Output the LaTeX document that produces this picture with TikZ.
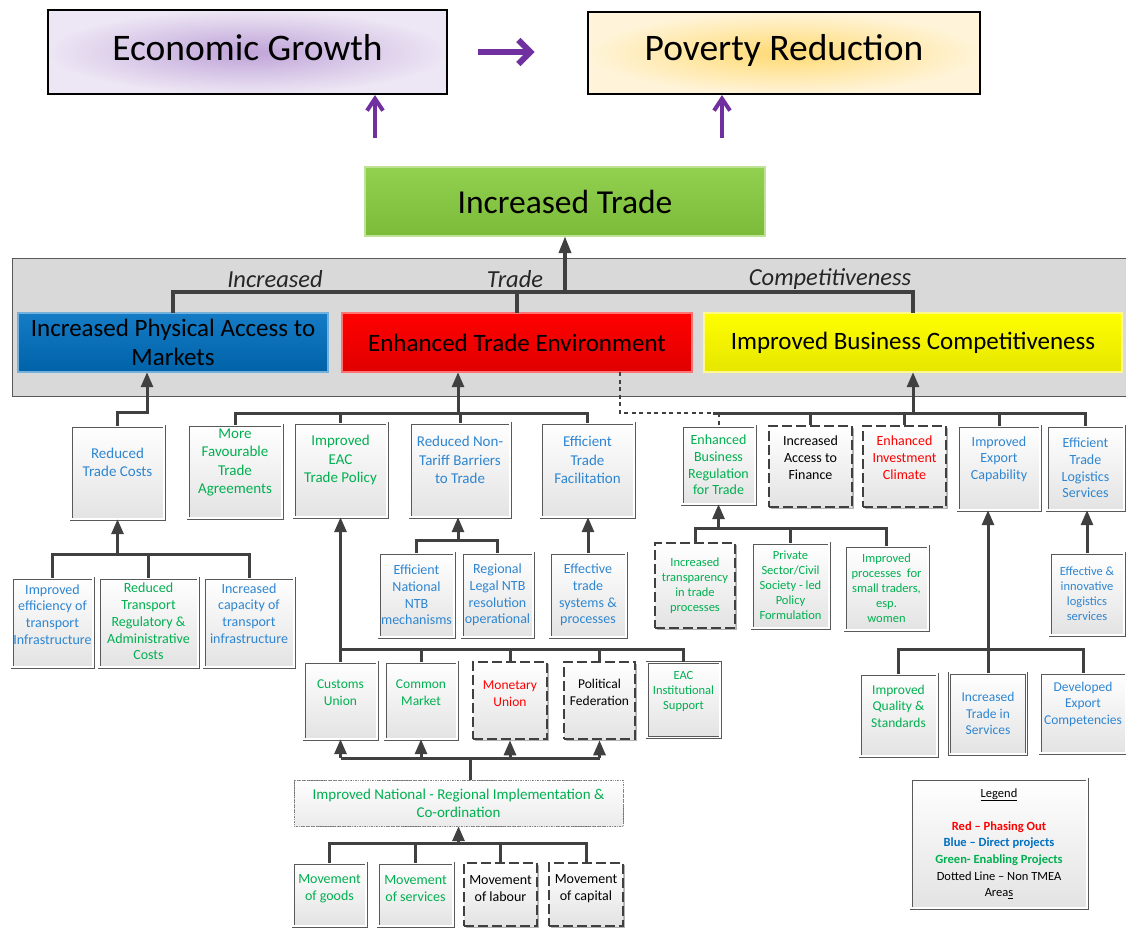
\documentclass[tikz,border=0pt]{standalone}
\usepackage{fontspec}
\setmainfont{Carlito}
\usetikzlibrary{arrows.meta,shadows}
\definecolor{tblue}{HTML}{2E86D1}
\definecolor{tgreen}{HTML}{00B050}
\definecolor{tred}{HTML}{FF0000}
\definecolor{lblue}{HTML}{0070C0}
\definecolor{cline}{HTML}{404040}
\definecolor{purp}{HTML}{7030A0}
\definecolor{egin}{HTML}{BFA3D8}
\definecolor{egout}{HTML}{EDE6F4}
\definecolor{prin}{HTML}{FFDA73}
\definecolor{prout}{HTML}{FFF4D9}
\definecolor{bandfill}{HTML}{D9D9D9}
\definecolor{itgreen}{HTML}{92D050}
\definecolor{itgreen2}{HTML}{7CBB3A}
\newcommand\mybox[9]{%
  \node[#2, minimum width=#5pt, minimum height=#6pt] (#1) at (#3,#4) {};
  \node[align=center, inner sep=0pt, #7] (#1-t) at ([yshift=#8pt]#1.center) {#9};}
\begin{document}
\begin{tikzpicture}[x=1pt,y=-1pt,
  conn/.style={draw=cline, line width=3pt},
  trunk/.style={draw=cline, line width=3.8pt},
  arr/.style={conn, -{Triangle[length=15pt,width=12pt]}},
  dotconn/.style={draw=cline, line width=2.5pt, dash pattern=on 4pt off 3.5pt},
  pline/.style={draw=purp, line width=4pt},
  shd/.style={drop shadow={shadow xshift=1.8pt, shadow yshift=-1.8pt, opacity=0.3, fill=black}},
  pbox/.style={rectangle, top color=white, bottom color=black!11, shd,
     postaction={draw=black!65, line width=3pt},
     postaction={draw=white, line width=1.5pt}},
  dbox/.style={rectangle, draw=cline, line width=2.6pt, dash pattern=on 10pt off 4pt, top color=white, bottom color=black!11, shd},
  ibox/.style={rectangle, top color=white, bottom color=black!8,
     postaction={draw=black!55, line width=0.7pt, densely dotted},
     postaction={draw=black!40, line width=0.5pt, dotted}},
  bandbox/.style={rectangle, postaction={draw=black!70, line width=2.8pt},
     postaction={draw=#1, line width=1.3pt}},
  f24/.style={font=\fontsize{25}{29}\selectfont},
  f15/.style={font=\fontsize{15}{18.5}\selectfont},
  f14/.style={font=\fontsize{14}{16.7}\selectfont},
  f13/.style={font=\fontsize{13.5}{16.5}\selectfont},
  f12/.style={font=\fontsize{12.5}{15}\selectfont},
  lab/.style={font=\fontsize{24.5}{28}\selectfont\itshape, text=black!85}
]
\useasboundingbox (0,0) rectangle (1126,930);

% ---------- top
\mybox{eg}{rectangle,draw=black,line width=1.3pt,inner color=egin,outer color=egout}{247.5}{52}{399}{84}{font=\fontsize{37.5}{44}\selectfont}{4}{Economic Growth}
\mybox{pr}{rectangle,draw=black,line width=1.3pt,inner color=prin,outer color=prout}{784}{53}{392}{82}{font=\fontsize{37.5}{44}\selectfont}{3}{Poverty Reduction}
% purple arrows (shaft + chevron head)
\coordinate (h0) at ([xshift=30pt]eg.east);
\coordinate (h1) at ([xshift=-57pt]eg.east -| pr.west);
\draw[pline, line width=6pt] (h0) -- ([xshift=-2pt]h1);
\draw[pline, line width=6pt, line join=miter] (h1) ++(-12,-12) -- (h1) -- ++(-12,12);
\coordinate (u1) at (375,138);
\coordinate (u2) at (722,138);
\coordinate (v1) at ([yshift=-4pt]u1 |- eg.south);
\coordinate (v2) at ([yshift=-4pt]u2 |- pr.south);
\draw[pline] (u1) -- ([yshift=-2pt]v1);
\draw[pline] (u2) -- ([yshift=-2pt]v2);
\draw[pline, line join=miter] (v1) ++(-8,12) -- (v1) -- ++(8,12);
\draw[pline, line join=miter] (v2) ++(-8,12) -- (v2) -- ++(8,12);

\mybox{it}{bandbox=itgreen!60!white,top color=itgreen,bottom color=itgreen2}{565}{201.5}{400}{69}{font=\fontsize{33.5}{38}\selectfont}{0}{Increased Trade}

% ---------- band
\node[rectangle, fill=bandfill, draw=black!65, line width=1pt, anchor=north west, minimum width=1130pt, minimum height=138pt, inner sep=0pt] (band) at (12,258) {};
\node[lab] (lab1) at (275,279) {Increased};
\node[lab] (lab2) at (515,279) {Trade};
\node[lab] (lab3) at (830,279) {Competitiveness};

\mybox{pam}{bandbox=lblue!55!white,top color=lblue!92!white,bottom color=lblue!88!black}{173}{342.5}{310}{59}{f24}{0}{Increased Physical Access to\\Markets}
\mybox{ete}{bandbox=red!55!white,top color=red,bottom color=red!88!black}{517}{342.5}{350}{59}{f24}{0}{Enhanced Trade Environment}
\mybox{ibc}{bandbox=yellow!45!white,top color=yellow,bottom color=yellow!90!black}{913}{342.5}{418}{59}{f24}{0}{Improved Business Competitiveness}

\coordinate (b0) at (565,292);
\draw[trunk] (pam.north) |- (b0) -| (ibc.north);
\draw[trunk] (ete.north) -- (ete.north |- b0);
\draw[trunk, -{Triangle[length=17pt,width=12pt]}] (b0) -- (it.south);

% ---------- left group
\mybox{rtc}{pbox}{117.5}{472.5}{93}{93}{f15,text=tblue}{10}{Reduced\\Trade Costs}
\mybox{c11}{pbox}{52.5}{622.5}{81}{89}{f14,text=tblue}{8}{Improved\\efficiency of\\transport\\Infrastructure}
\mybox{c12}{pbox}{148.5}{622.5}{99}{89}{f14,text=tgreen}{1}{Reduced\\Transport\\Regulatory \&\\Administrative\\Costs}
\mybox{c13}{pbox}{249}{622.5}{90}{89}{f14,text=tblue}{9}{Increased\\capacity of\\transport\\infrastructure}

\draw[arr] (rtc.north) -- ++(0,-13) -| ([xshift=-26pt]pam.south);
\coordinate (b1) at (117.5,554);
\draw[conn] (c11.north) |- (b1) -| (c13.north);
\draw[conn] (c12.north) -- (c12.north |- b1);
\draw[arr] (b1) -- (rtc.south);

% ---------- red group
\mybox{mfta}{pbox}{235}{471.5}{94}{93}{f15,text=tgreen}{9}{More\\Favourable\\Trade\\Agreements}
\mybox{ieac}{pbox}{340.5}{470}{93}{94}{f15,text=tgreen}{10}{Improved\\EAC\\Trade Policy}
\mybox{rntb}{pbox}{460}{470}{100}{94}{f15,text=tblue}{10}{Reduced Non-\\Tariff Barriers\\to Trade}
\mybox{etf}{pbox}{587.5}{470}{93}{94}{f15,text=tblue}{10}{Efficient\\Trade\\Facilitation}
\mybox{enntb}{pbox}{416.5}{595}{75}{84}{f14,text=tblue}{0}{Efficient\\National\\NTB\\mechanisms}
\mybox{rlntb}{pbox}{497.5}{595}{71}{84}{f14,text=tblue}{0}{Regional\\Legal NTB\\resolution\\operational}
\mybox{ets}{pbox}{588}{595}{76}{84}{f14,text=tblue}{0}{Effective\\trade\\systems \&\\processes}

\coordinate (b2) at (458,413);
\draw[conn] (mfta.north) |- (b2) -| (etf.north);
\draw[conn] (ieac.north) -- (ieac.north |- b2);
\draw[conn] (rntb.north) -- (rntb.north |- b2);
\draw[arr] (b2) -- (b2 |- ete.south);

\coordinate (b3) at (458,540);
\draw[conn] (enntb.north) |- (b3) -| (rlntb.north);
\draw[arr] (b3) -- (b3 |- rntb.south);
\draw[arr] (ets.north) -- (ets.north |- etf.south);

% ---------- EAC integration
\mybox{cu}{pbox}{340.5}{700.5}{73}{77}{f13,text=tgreen}{8}{Customs\\Union}
\mybox{cm}{pbox}{421}{700.5}{72}{77}{f13,text=tgreen}{8}{Common\\Market}
\mybox{mu}{dbox}{510}{700.5}{74}{77}{f13,text=tred}{7}{Monetary\\Union}
\mybox{pf}{dbox}{599.5}{700.5}{71}{77}{f13,text=black}{8}{Political\\Federation}
\mybox{eis}{pbox}{683.5}{700}{73}{75}{f12,text=tgreen}{9}{EAC\\Institutional\\Support}

\coordinate (b4) at (340.5,649);
\draw[conn] (b4) -| (eis.north);
\draw[arr] (b4) -- (b4 |- ieac.south);
\draw[conn] (cm.north) -- (cm.north |- b4);
\draw[conn] (mu.north) -- (mu.north |- b4);
\draw[conn] (pf.north) -- (pf.north |- b4);
\draw[conn] (cu.north) -- (cu.north |- b4);

\mybox{inr}{ibox}{458.5}{803}{329}{46}{font=\fontsize{15}{18}\selectfont,text=tgreen}{0}{Improved National - Regional Implementation \&\\Co-ordination}
\coordinate (b5) at (470,758);
\draw[conn] (inr.north -| b5) -- (b5);
\draw[conn] (cu.south |- b5) -- (pf.south |- b5);
\draw[arr] (cu.south |- b5) -- (cu.south);
\draw[arr] (cm.south |- b5) -- (cm.south);
\draw[arr] (mu.south |- b5) -- (mu.south);
\draw[arr] (pf.south |- b5) -- (pf.south);

\mybox{mg}{pbox}{329.5}{894.5}{73}{63}{f14,text=tgreen}{6}{Movement\\of goods}
\mybox{ms}{pbox}{415.5}{894.5}{75}{63}{f14,text=tgreen}{6}{Movement\\of services}
\mybox{ml}{dbox}{500.5}{894.5}{73}{63}{f14,text=black}{6}{Movement\\of labour}
\mybox{mc}{dbox}{586}{894.5}{74}{63}{f14,text=black}{6}{Movement\\of capital}
\coordinate (b6) at (458.5,843);
\draw[conn] (mg.north) |- (b6) -| (mc.north);
\draw[conn] (ms.north) -- (ms.north |- b6);
\draw[conn] (ml.north) -- (ml.north |- b6);
\draw[arr] (b6) -- (inr.south);

% ---------- right group
\mybox{ebr}{pbox}{718.5}{465}{73}{78}{f14,text=tgreen}{0}{Enhanced\\Business\\Regulation\\for Trade}
\mybox{iaf}{dbox}{810.5}{466.5}{83}{81}{f14,text=black}{9}{Increased\\Access to\\Finance}
\mybox{eic}{dbox}{904.5}{466.5}{83}{81}{f14,text=tred}{9}{Enhanced\\Investment\\Climate}
\mybox{iec}{pbox}{999}{468}{82}{84}{f14,text=tblue}{9}{Improved\\Export\\Capability}
\mybox{etls}{pbox}{1085.5}{468}{77}{84}{f14,text=tblue}{0}{Efficient\\Trade\\Logistics\\Services}

\coordinate (dj) at (713,413);
\draw[dotconn] ([xshift=103pt]ete.south) |- (dj);
\draw[conn] (dj) -| (etls.north);
\draw[conn] (iaf.north) -- (iaf.north |- dj);
\draw[conn] (eic.north) -- (eic.north |- dj);
\draw[conn] (iec.north) -- (iec.north |- dj);
\draw[dotconn, line width=2pt] (ebr.north |- dj) -- (ebr.north);
\draw[arr] (ibc.south |- dj) -- (ibc.south);

\mybox{itp}{dbox}{695}{585.5}{80}{85}{f12,text=tgreen}{0}{Increased\\transparency\\in trade\\processes}
\mybox{psc}{pbox}{790.5}{585.5}{77}{85}{f12,text=tgreen}{0}{Private\\Sector/Civil\\Society - led\\Policy\\Formulation}
\mybox{ips}{pbox}{886.5}{588}{83}{84}{f12,text=tgreen}{0}{Improved\\processes~ for\\small traders,\\esp.\\women}
\coordinate (b7) at (718.5,528);
\draw[conn] (itp.north) |- (b7) -| (ips.north);
\draw[conn] (psc.north) -- (psc.north |- b7);
\draw[arr] (b7) -- (ebr.south);

\mybox{eil}{pbox}{1087}{594}{74}{82}{f12,text=tblue}{0}{Effective \&\\innovative\\logistics\\services}
\draw[arr] (eil.north) -- (eil.north |- etls.south);

\mybox{iqs}{pbox}{898.5}{715}{77}{82}{f13,text=tgreen}{9}{Improved\\Quality \&\\Standards}
\mybox{its}{pbox}{988}{713.5}{77}{81}{f13,text=tblue}{0}{Increased\\Trade in\\Services}
\mybox{dec}{pbox}{1083}{713}{86}{80}{f13,text=tblue}{9}{Developed\\Export\\Competencies}
\coordinate (b8) at (988,649);
\draw[conn] (iqs.north) |- (b8) -| (dec.north);
\draw[conn] (its.north) -- (its.north |- b8);
\draw[arr] (b8) -- (b8 |- iec.south);

% ---------- legend
\mybox{leg}{pbox}{999}{843.5}{176}{129}{font=\fontsize{12.5}{16.6}\selectfont}{0}{\underline{Legend}\\[16.6pt]
  \textcolor{tred}{\bfseries Red – Phasing Out}\\
  \textcolor{lblue}{\bfseries Blue – Direct projects}\\
  \textcolor{tgreen}{\bfseries Green- Enabling Projects}\\
  Dotted Line – Non TMEA\\
  Area\underline{s}}
\end{tikzpicture}
\end{document}
